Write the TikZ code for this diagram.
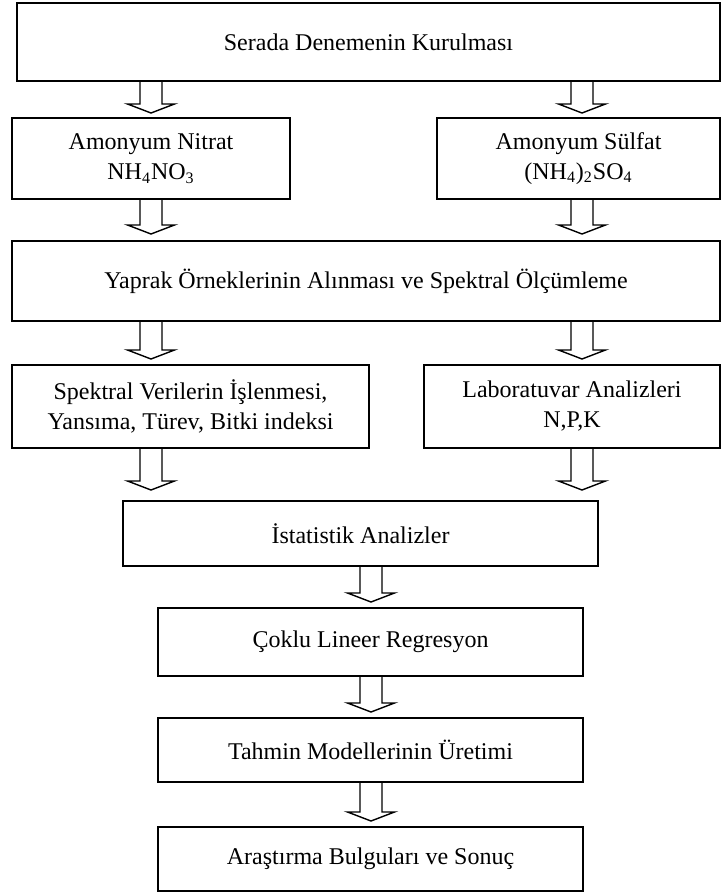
\documentclass[tikz,border=0pt]{standalone}
\usepackage{fontspec}
\setmainfont{Liberation Serif}
\usetikzlibrary{calc}
\tikzset{
  box/.style={draw, line width=1pt, align=center, inner sep=0pt,
    font=\fontsize{12}{15}\selectfont},
  blockarrow/.style={draw, line width=.7pt, line join=miter,
    to path={let \p1=(\tikztostart), \p2=(\tikztotarget) in
      (\x1-5.5pt,\y1) -- (\x1-5.5pt,\y2+4.5pt) -- (\x1-11.75pt,\y2+4.5pt)
      -- (\x1,\y2) -- (\x1+11.75pt,\y2+4.5pt) -- (\x1+5.5pt,\y2+4.5pt)
      -- (\x1+5.5pt,\y1)}}
}
\begin{document}
\begin{tikzpicture}[x=.5pt, y=-.5pt]
    \useasboundingbox (0,0) rectangle (723,894);
    \coordinate (lx) at (151,0);
    \coordinate (rx) at (582,0);
    \coordinate (cx) at (371,0);
    % boxes
    \node [box, minimum width=351.5pt, minimum height=39pt] (serada) at (368.5,42) {Serada Denemenin Kurulması};
    \node [box, minimum width=139pt, minimum height=40.5pt] (amnitrat) at (151,158.5) {Amonyum Nitrat\\NH\textsubscript{4}NO\textsubscript{3}};
    \node [box, minimum width=141.5pt, minimum height=40.5pt] (amsulfat) at (578.5,158.5) {Amonyum Sülfat\\(NH\textsubscript{4})\textsubscript{2}SO\textsubscript{4}};
    \node [box, minimum width=354pt, minimum height=40pt] (yaprak) at (366,281) {Yaprak Örneklerinin Alınması ve Spektral Ölçümleme};
    \node [box, minimum width=178.5pt, minimum height=41.5pt] (spektral) at (190.5,406.5) {Spektral Verilerin İşlenmesi,\\Yansıma, Türev, Bitki indeksi};
    \node [box, minimum width=148pt, minimum height=41.5pt] (lab) at (572,406.5) {Laboratuvar Analizleri\\N,P,K};
    \node [box, minimum width=237.5pt, minimum height=32.5pt] (istat) at (360.5,533.5) {İstatistik Analizler};
    \node [box, minimum width=212.5pt, minimum height=34pt] (coklu) at (370.5,642) {Çoklu Lineer Regresyon};
    \node [box, minimum width=212.5pt, minimum height=32pt] (tahmin) at (370.5,750) {Tahmin Modellerinin Üretimi};
    \node [box, minimum width=212.5pt, minimum height=32pt] (arastirma) at (370.5,859) {Araştırma Bulguları ve Sonuç};
    % arrows
    \draw [blockarrow] (lx |- serada.south) to ($(lx |- amnitrat.north)+(0,-4)$);
    \draw [blockarrow] (rx |- serada.south) to ($(rx |- amsulfat.north)+(0,-4)$);
    \draw [blockarrow] (lx |- amnitrat.south) to ($(lx |- yaprak.north)+(0,-6)$);
    \draw [blockarrow] (rx |- amsulfat.south) to ($(rx |- yaprak.north)+(0,-6)$);
    \draw [blockarrow] (lx |- yaprak.south) to ($(lx |- spektral.north)+(0,-5)$);
    \draw [blockarrow] (rx |- yaprak.south) to ($(rx |- lab.north)+(0,-5)$);
    \draw [blockarrow] (lx |- spektral.south) to ($(lx |- istat.north)+(0,-10)$);
    \draw [blockarrow] (rx |- lab.south) to ($(rx |- istat.north)+(0,-10)$);
    \draw [blockarrow] (cx |- istat.south) to ($(cx |- coklu.north)+(0,-5)$);
    \draw [blockarrow] (cx |- coklu.south) to ($(cx |- tahmin.north)+(0,-5)$);
    \draw [blockarrow] (cx |- tahmin.south) to ($(cx |- arastirma.north)+(0,-5)$);
\end{tikzpicture}
\end{document}
